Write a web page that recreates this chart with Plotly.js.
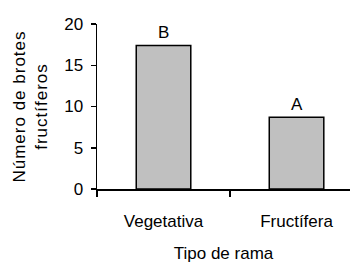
<!DOCTYPE html>
<html>
<head>
<meta charset="utf-8">
<script src="https://cdn.plot.ly/plotly-3.0.1.min.js"></script>
<style>
html,body{margin:0;padding:0;background:#fff;}
#chart{width:350px;height:263px;}
#chart .ytitle{letter-spacing:1px;}
</style>
</head>
<body>
<div id="chart"></div>
<script>
const categories = ["Vegetativa", "Fructífera"];
const values = [17.4, 8.7];
const letters = ["B", "A"];
const yTicks = [0, 5, 10, 15, 20];

const font = {family: "Liberation Sans, Arial, sans-serif", size: 17, color: "#000"};

const trace = {
  type: "bar",
  x: categories,
  y: values,
  width: 0.41,
  marker: {color: "#c0c0c0", line: {color: "#000", width: 1.5}},
  hoverinfo: "none"
};

const annotations = categories.map((c, i) => ({
  x: c, y: values[i], text: letters[i], showarrow: false,
  yanchor: "bottom", yshift: 1, font: font
}));

const layout = {
  width: 350, height: 263,
  margin: {l: 97, r: 0, t: 24, b: 74},
  paper_bgcolor: "#fff", plot_bgcolor: "#fff",
  font: font,
  showlegend: false,
  bargap: 0,
  xaxis: {
    type: "category",
    range: [-0.5, 1.402],
    showline: true, linecolor: "#000", linewidth: 1.5,
    ticks: "outside", tickson: "boundaries", ticklen: 6, tickcolor: "#000", tickwidth: 1.5,
    ticklabelstandoff: 16,
    showgrid: false, zeroline: false,
    tickfont: font,
    title: {text: "Tipo de rama", font: font, standoff: 21}
  },
  yaxis: {
    range: [0, 20],
    tickvals: yTicks,
    showline: true, linecolor: "#000", linewidth: 1.5,
    ticks: "outside", ticklen: 5, tickcolor: "#000", tickwidth: 1.5,
    ticklabelstandoff: 4,
    showgrid: false, zeroline: false,
    tickfont: font,
    title: {text: "Número de brotes<br>fructíferos", font: font, standoff: 12}
  },
  annotations: annotations
};

Plotly.newPlot("chart", [trace], layout, {staticPlot: true, displayModeBar: false});
</script>
</body>
</html>
